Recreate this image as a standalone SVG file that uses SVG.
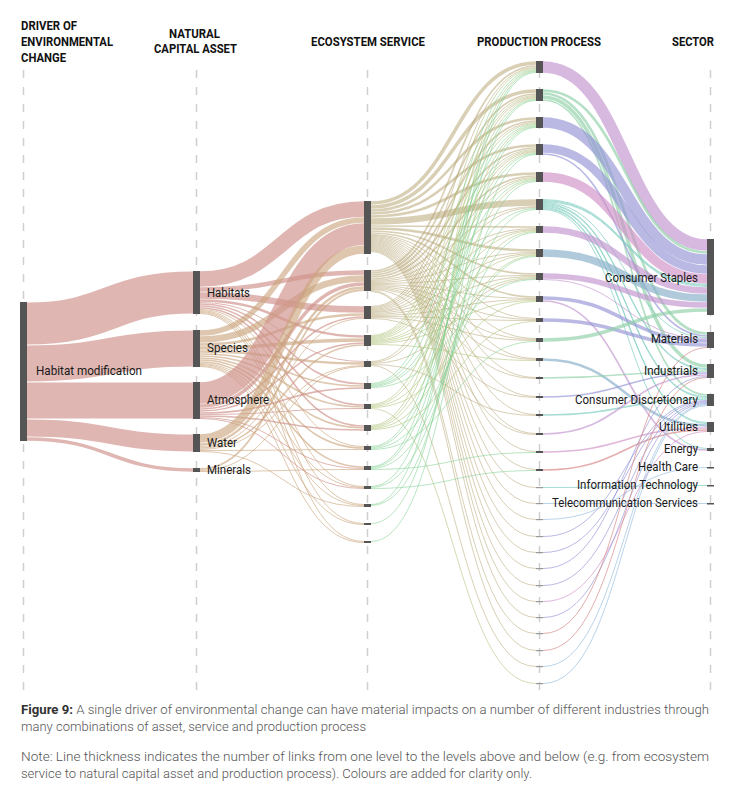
<svg xmlns="http://www.w3.org/2000/svg" width="735" height="800" viewBox="0 0 735 800">
<style>
text{font-family:Roboto,"Liberation Sans",sans-serif;fill:#1a1a1a}
.h{font-size:13px;font-weight:bold;fill:#111}
.lb{font-size:13px}
.cap{font-size:13px;font-weight:300;fill:#555}
.dash{stroke:#cfcfcf;stroke-width:1.5;stroke-dasharray:8 9;fill:none}
.n{fill:#555}
.ng{fill:#999}
#links path{fill:none}
.pkA{stroke:#d0938c;stroke-opacity:.68}
.tnA{stroke:#c9a47c;stroke-opacity:.62}
.tn{stroke:#b8a878;stroke-opacity:.55}
.ol{stroke:#b3c77f;stroke-opacity:.6}
.gn{stroke:#7fcf8f;stroke-opacity:.55}
.pu{stroke:#c193cf;stroke-opacity:.65}
.gr{stroke:#8fd0a8;stroke-opacity:.65}
.lv{stroke:#9393d6;stroke-opacity:.65}
.pk{stroke:#cf8fc6;stroke-opacity:.65}
.tl{stroke:#7fcdc0;stroke-opacity:.7}
.sb{stroke:#8fb3cc;stroke-opacity:.7}
.rd{stroke:#d98c8c;stroke-opacity:.7}
.lbl{stroke:#9cc0e0;stroke-opacity:.7}
</style>

<g id="guides">
<line class="dash" x1="23.5" y1="70" x2="23.5" y2="692"/>
<line class="dash" x1="196.5" y1="70" x2="196.5" y2="692"/>
<line class="dash" x1="367.5" y1="70" x2="367.5" y2="692"/>
<line class="dash" x1="539.5" y1="70" x2="539.5" y2="692"/>
<line class="dash" x1="710.5" y1="70" x2="710.5" y2="692"/>
</g>

<g id="headers">
<text class="h" x="21" y="30" textLength="56" lengthAdjust="spacingAndGlyphs">DRIVER OF</text>
<text class="h" x="21" y="46" textLength="92" lengthAdjust="spacingAndGlyphs">ENVIRONMENTAL</text>
<text class="h" x="21" y="62" textLength="45" lengthAdjust="spacingAndGlyphs">CHANGE</text>
<text class="h" x="169" y="38" textLength="51" lengthAdjust="spacingAndGlyphs">NATURAL</text>
<text class="h" x="154" y="53" textLength="83" lengthAdjust="spacingAndGlyphs">CAPITAL ASSET</text>
<text class="h" x="311" y="46" textLength="114" lengthAdjust="spacingAndGlyphs">ECOSYSTEM SERVICE</text>
<text class="h" x="477" y="46" textLength="124" lengthAdjust="spacingAndGlyphs">PRODUCTION PROCESS</text>
<text class="h" x="672" y="46" textLength="42" lengthAdjust="spacingAndGlyphs">SECTOR</text>
</g>

<g id="links">
<!-- driver -> natural -->
<path class="pkA" stroke-width="42" d="M27 323.5C110 323.5 110 292.5 193 292.5"/>
<path class="pkA" stroke-width="36" d="M27 363.5C110 363.5 110 348.5 193 348.5"/>
<path class="pkA" stroke-width="36" d="M27 400.5C110 400.5 110 400.5 193 400.5"/>
<path class="pkA" stroke-width="17" d="M27 428C110 428 110 443 193 443"/>
<path class="pkA" stroke-width="3.5" d="M27 439C110 439 110 470 193 470"/>
<!-- natural -> ecosystem : Habitats -->
<path class="pkA" stroke-width="15.5" d="M200 279C282 279 282 209 364 209"/>
<path class="pkA" stroke-width="4.5" d="M200 289.5C282 289.5 282 272.5 364 272.5"/>
<path class="pkA" stroke-width="6.5" d="M200 295.5C282 295.5 282 309.5 364 309.5"/>
<path class="pkA" stroke-width="2.5" d="M200 300.5C282 300.5 282 336.5 364 336.5"/>
<path class="pkA" d="M200 302.5C282 302.5 282 361.5 364 361.5"/>
<path class="pkA" stroke-width="1.6" d="M200 304C282 304 282 384 364 384"/>
<path class="pkA" stroke-width="1.6" d="M200 306C282 306 282 405 364 405"/>
<path class="pkA" stroke-width="1.6" d="M200 308C282 308 282 426 364 426"/>
<path class="tnA" d="M200 309.5C282 309.5 282 446.5 364 446.5"/>
<path class="tnA" d="M200 310.5C282 310.5 282 486.5 364 486.5"/>
<path class="tnA" d="M200 311.5C282 311.5 282 504.5 364 504.5"/>
<path class="tnA" d="M200 312.5C282 312.5 282 523.5 364 523.5"/>
<path class="tnA" d="M200 313.5C282 313.5 282 541.5 364 541.5"/>
<!-- Species -->
<path class="tnA" stroke-width="5.5" d="M200 333C282 333 282 220 364 220"/>
<path class="tnA" stroke-width="6.5" d="M200 339.5C282 339.5 282 278.5 364 278.5"/>
<path class="tnA" stroke-width="2.5" d="M200 344.5C282 344.5 282 314.5 364 314.5"/>
<path class="tnA" stroke-width="3.5" d="M200 348C282 348 282 340 364 340"/>
<path class="tnA" stroke-width="2.5" d="M200 351.5C282 351.5 282 363.5 364 363.5"/>
<path class="tnA" stroke-width="1.6" d="M200 354C282 354 282 386 364 386"/>
<path class="tnA" stroke-width="1.6" d="M200 356C282 356 282 407 364 407"/>
<path class="tnA" stroke-width="1.6" d="M200 358C282 358 282 428 364 428"/>
<path class="tnA" stroke-width="1.6" d="M200 360C282 360 282 448 364 448"/>
<path class="tnA" stroke-width="1.6" d="M200 362C282 362 282 467 364 467"/>
<path class="tnA" d="M200 363.5C282 363.5 282 487.5 364 487.5"/>
<path class="tnA" d="M200 364.5C282 364.5 282 505.5 364 505.5"/>
<path class="tnA" d="M200 365.5C282 365.5 282 524.5 364 524.5"/>
<path class="tnA" d="M200 366.5C282 366.5 282 542.5 364 542.5"/>
<!-- Atmosphere -->
<path class="pkA" stroke-width="21.5" d="M200 393C282 393 282 234 364 234"/>
<path class="pkA" stroke-width="3.5" d="M200 406C282 406 282 284 364 284"/>
<path class="pkA" stroke-width="1.6" d="M200 409C282 409 282 317 364 317"/>
<path class="pkA" stroke-width="1.6" d="M200 411C282 411 282 343 364 343"/>
<path class="pkA" stroke-width="1.6" d="M200 413C282 413 282 388 364 388"/>
<path class="pkA" d="M200 414.5C282 414.5 282 408.5 364 408.5"/>
<path class="pkA" stroke-width="1.6" d="M200 416C282 416 282 430 364 430"/>
<path class="pkA" d="M200 417.5C282 417.5 282 468.5 364 468.5"/>
<path class="pkA" d="M200 418.5C282 418.5 282 488.5 364 488.5"/>
<!-- Water -->
<path class="tnA" stroke-width="8.5" d="M200 438.5C282 438.5 282 249.5 364 249.5"/>
<path class="tnA" stroke-width="2.5" d="M200 444.5C282 444.5 282 287.5 364 287.5"/>
<path class="tnA" d="M200 446.5C282 446.5 282 318.5 364 318.5"/>
<path class="tnA" stroke-width="1.6" d="M200 448C282 448 282 345 364 345"/>
<path class="tnA" d="M200 449.5C282 449.5 282 365.5 364 365.5"/>
<path class="tnA" d="M200 450.5C282 450.5 282 449.5 364 449.5"/>
<path class="tnA" d="M200 451.5C282 451.5 282 506.5 364 506.5"/>
<!-- Minerals -->
<path class="tnA" stroke-width="1.8" d="M200 469C282 469 282 290 364 290"/>
<path class="tnA" d="M200 470.5C282 470.5 282 366.5 364 366.5"/>
<path class="tnA" d="M200 471.5C282 471.5 282 469.5 364 469.5"/>

<!-- ecosystem -> production : E1 -->
<path class="tn" stroke-width="3.5" d="M371 203C453.5 203 453.5 63 536 63"/>
<path class="tn" stroke-width="3.5" d="M371 207C453.5 207 453.5 91 536 91"/>
<path class="tn" stroke-width="2.6" d="M371 210.5C453.5 210.5 453.5 118.5 536 118.5"/>
<path class="tn" stroke-width="2.6" d="M371 213.5C453.5 213.5 453.5 145.5 536 145.5"/>
<path class="tn" stroke-width="2.6" d="M371 216.5C453.5 216.5 453.5 173.5 536 173.5"/>
<path class="tn" stroke-width="6.5" d="M371 221.5C453.5 221.5 453.5 202.5 536 202.5"/>
<path class="tn" stroke-width="1.7" d="M371 226C453.5 226 453.5 227 536 227"/>
<path class="tn" stroke-width="2.6" d="M371 228.5C453.5 228.5 453.5 250.5 536 250.5"/>
<path class="tn" stroke-width="1.7" d="M371 231C453.5 231 453.5 274 536 274"/>
<path class="tn" stroke-width="1.7" d="M371 233C453.5 233 453.5 297 536 297"/>
<path class="tn" d="M371 234.5C453.5 234.5 453.5 318.5 536 318.5"/>
<path class="tn" d="M371 235.5C453.5 235.5 453.5 338.5 536 338.5"/>
<path class="tn" d="M371 236.5C453.5 236.5 453.5 358.5 536 358.5"/>
<path class="tn" d="M371 237.5C453.5 237.5 453.5 377.5 536 377.5"/>
<path class="tn" d="M371 238.5C453.5 238.5 453.5 396.5 536 396.5"/>
<path class="tn" d="M371 239.5C453.5 239.5 453.5 414.5 536 414.5"/>
<path class="tn" d="M371 240.5C453.5 240.5 453.5 433.5 536 433.5"/>
<path class="tn" d="M371 241.5C453.5 241.5 453.5 451.5 536 451.5"/>
<path class="tn" d="M371 242.5C453.5 242.5 453.5 469.5 536 469.5"/>
<path class="tn" d="M371 243.5C453.5 243.5 453.5 487.5 536 487.5"/>
<path class="tn" d="M371 244.5C453.5 244.5 453.5 503.5 536 503.5"/>
<path class="tn" d="M371 245.5C453.5 245.5 453.5 519.5 536 519.5"/>
<path class="tn" d="M371 246.5C453.5 246.5 453.5 536.5 536 536.5"/>
<path class="tn" d="M371 247.5C453.5 247.5 453.5 552.5 536 552.5"/>
<path class="tn" d="M371 248.5C453.5 248.5 453.5 568.5 536 568.5"/>
<path class="tn" d="M371 249.5C453.5 249.5 453.5 585.5 536 585.5"/>
<path class="tn" d="M371 250.5C453.5 250.5 453.5 601.5 536 601.5"/>
<path class="tn" d="M371 251.5C453.5 251.5 453.5 617.5 536 617.5"/>
<!-- E2 -->
<path class="tn" stroke-width="1.7" d="M371 271C453.5 271 453.5 66 536 66"/>
<path class="tn" stroke-width="1.7" d="M371 273C453.5 273 453.5 94 536 94"/>
<path class="tn" stroke-width="1.7" d="M371 275C453.5 275 453.5 121 536 121"/>
<path class="tn" stroke-width="1.7" d="M371 277C453.5 277 453.5 148 536 148"/>
<path class="tn" stroke-width="1.7" d="M371 279C453.5 279 453.5 176 536 176"/>
<path class="tn" d="M371 280.5C453.5 280.5 453.5 206.5 536 206.5"/>
<path class="tn" d="M371 281.5C453.5 281.5 453.5 228.5 536 228.5"/>
<path class="tn" d="M371 282.5C453.5 282.5 453.5 252.5 536 252.5"/>
<path class="tn" d="M371 283.5C453.5 283.5 453.5 275.5 536 275.5"/>
<path class="tn" d="M371 284.5C453.5 284.5 453.5 298.5 536 298.5"/>
<path class="tn" d="M371 285.5C453.5 285.5 453.5 319.5 536 319.5"/>
<path class="tn" d="M371 286.5C453.5 286.5 453.5 339.5 536 339.5"/>
<path class="tn" d="M371 287.5C453.5 287.5 453.5 359.5 536 359.5"/>
<path class="tn" d="M371 288.5C453.5 288.5 453.5 378.5 536 378.5"/>
<path class="tn" d="M371 289.5C453.5 289.5 453.5 434.5 536 434.5"/>
<path class="tn" d="M371 290.5C453.5 290.5 453.5 633.5 536 633.5"/>
<path class="tn" d="M371 291.5C453.5 291.5 453.5 650.5 536 650.5"/>
<!-- E3 -->
<path class="tn" d="M371 306.5C453.5 306.5 453.5 67.5 536 67.5"/>
<path class="tn" d="M371 307.5C453.5 307.5 453.5 95.5 536 95.5"/>
<path class="tn" d="M371 308.5C453.5 308.5 453.5 122.5 536 122.5"/>
<path class="tn" d="M371 309.5C453.5 309.5 453.5 149.5 536 149.5"/>
<path class="tn" d="M371 310.5C453.5 310.5 453.5 177.5 536 177.5"/>
<path class="tn" d="M371 311.5C453.5 311.5 453.5 207.5 536 207.5"/>
<path class="tn" d="M371 312.5C453.5 312.5 453.5 229.5 536 229.5"/>
<path class="tn" d="M371 313.5C453.5 313.5 453.5 253.5 536 253.5"/>
<path class="tn" d="M371 314.5C453.5 314.5 453.5 276.5 536 276.5"/>
<path class="tn" d="M371 315.5C453.5 315.5 453.5 299.5 536 299.5"/>
<path class="tn" d="M371 316.5C453.5 316.5 453.5 320.5 536 320.5"/>
<path class="tn" d="M371 317.5C453.5 317.5 453.5 340.5 536 340.5"/>
<path class="tn" d="M371 318.5C453.5 318.5 453.5 397.5 536 397.5"/>
<!-- E4 -->
<path class="ol" d="M371 335.5C453.5 335.5 453.5 68.5 536 68.5"/>
<path class="ol" d="M371 336.5C453.5 336.5 453.5 96.5 536 96.5"/>
<path class="ol" d="M371 337.5C453.5 337.5 453.5 123.5 536 123.5"/>
<path class="ol" d="M371 338.5C453.5 338.5 453.5 150.5 536 150.5"/>
<path class="ol" d="M371 339.5C453.5 339.5 453.5 178.5 536 178.5"/>
<path class="ol" d="M371 340.5C453.5 340.5 453.5 230.5 536 230.5"/>
<path class="ol" d="M371 341.5C453.5 341.5 453.5 254.5 536 254.5"/>
<path class="ol" d="M371 342.5C453.5 342.5 453.5 277.5 536 277.5"/>
<path class="ol" d="M371 343.5C453.5 343.5 453.5 300.5 536 300.5"/>
<path class="ol" d="M371 344.5C453.5 344.5 453.5 360.5 536 360.5"/>
<!-- E5 -->
<path class="tn" d="M371 361.5C453.5 361.5 453.5 97.5 536 97.5"/>
<path class="tn" d="M371 362.5C453.5 362.5 453.5 151.5 536 151.5"/>
<path class="tn" d="M371 363.5C453.5 363.5 453.5 278.5 536 278.5"/>
<path class="tn" d="M371 364.5C453.5 364.5 453.5 415.5 536 415.5"/>
<path class="tn" d="M371 365.5C453.5 365.5 453.5 666.5 536 666.5"/>
<!-- E6 -->
<path class="gn" d="M371 383.5C453.5 383.5 453.5 69.5 536 69.5"/>
<path class="gn" d="M371 384.5C453.5 384.5 453.5 124.5 536 124.5"/>
<path class="gn" d="M371 385.5C453.5 385.5 453.5 179.5 536 179.5"/>
<path class="gn" d="M371 386.5C453.5 386.5 453.5 208.5 536 208.5"/>
<path class="gn" d="M371 387.5C453.5 387.5 453.5 279.5 536 279.5"/>
<!-- E7 -->
<path class="ol" d="M371 404.5C453.5 404.5 453.5 98.5 536 98.5"/>
<path class="ol" d="M371 405.5C453.5 405.5 453.5 152.5 536 152.5"/>
<path class="ol" d="M371 406.5C453.5 406.5 453.5 231.5 536 231.5"/>
<path class="ol" d="M371 407.5C453.5 407.5 453.5 301.5 536 301.5"/>
<path class="ol" d="M371 408.5C453.5 408.5 453.5 683.5 536 683.5"/>
<!-- E8 -->
<path class="ol" d="M371 425.5C453.5 425.5 453.5 70.5 536 70.5"/>
<path class="ol" d="M371 426.5C453.5 426.5 453.5 125.5 536 125.5"/>
<path class="ol" d="M371 427.5C453.5 427.5 453.5 180.5 536 180.5"/>
<path class="ol" d="M371 428.5C453.5 428.5 453.5 255.5 536 255.5"/>
<path class="ol" d="M371 429.5C453.5 429.5 453.5 321.5 536 321.5"/>
<!-- E9 -->
<path class="gn" d="M371 446.5C453.5 446.5 453.5 99.5 536 99.5"/>
<path class="gn" d="M371 447.5C453.5 447.5 453.5 153.5 536 153.5"/>
<path class="gn" d="M371 448.5C453.5 448.5 453.5 256.5 536 256.5"/>
<path class="gn" d="M371 449.5C453.5 449.5 453.5 341.5 536 341.5"/>
<!-- E10 -->
<path class="gn" d="M371 466.5C453.5 466.5 453.5 71.5 536 71.5"/>
<path class="gn" d="M371 467.5C453.5 467.5 453.5 126.5 536 126.5"/>
<path class="gn" d="M371 468.5C453.5 468.5 453.5 232.5 536 232.5"/>
<path class="gn" d="M371 469.5C453.5 469.5 453.5 452.5 536 452.5"/>
<!-- E11 -->
<path class="gn" d="M371 486.5C453.5 486.5 453.5 100.5 536 100.5"/>
<path class="gn" d="M371 487.5C453.5 487.5 453.5 209.5 536 209.5"/>
<path class="gn" d="M371 488.5C453.5 488.5 453.5 470.5 536 470.5"/>
<!-- E12-E14 -->
<path class="gn" d="M371 504.5C453.5 504.5 453.5 72.5 536 72.5"/>
<path class="gn" d="M371 505.5C453.5 505.5 453.5 181.5 536 181.5"/>
<path class="gn" d="M371 523.5C453.5 523.5 453.5 127.5 536 127.5"/>
<path class="gn" d="M371 541.5C453.5 541.5 453.5 154.5 536 154.5"/>

<!-- production -> sector -->
<path class="pu" stroke-width="11.5" d="M543 67C625 67 625 245 707 245"/>
<path class="gr" stroke-width="2.6" d="M543 90.5C625 90.5 625 252.5 707 252.5"/>
<path class="gr" stroke-width="2.6" d="M543 93.5C625 93.5 625 333.5 707 333.5"/>
<path class="gr" stroke-width="3.5" d="M543 97C625 97 625 366 707 366"/>
<path class="gr" stroke-width="1.7" d="M543 100C625 100 625 395 707 395"/>
<path class="lv" stroke-width="10.5" d="M543 122.5C625 122.5 625 259.5 707 259.5"/>
<path class="lv" stroke-width="8.5" d="M543 148.5C625 148.5 625 269.5 707 269.5"/>
<path class="lv" stroke-width="1.7" d="M543 154C625 154 625 336 707 336"/>
<path class="pk" stroke-width="9.5" d="M543 177C625 177 625 279 707 279"/>
<path class="tl" d="M543 199.5C625 199.5 625 284.5 707 284.5"/>
<path class="tl" d="M543 200.5C625 200.5 625 285.5 707 285.5"/>
<path class="tl" d="M543 201.5C625 201.5 625 286.5 707 286.5"/>
<path class="tl" d="M543 202.5C625 202.5 625 337.5 707 337.5"/>
<path class="tl" d="M543 203.5C625 203.5 625 368.5 707 368.5"/>
<path class="tl" d="M543 204.5C625 204.5 625 369.5 707 369.5"/>
<path class="tl" d="M543 205.5C625 205.5 625 396.5 707 396.5"/>
<path class="tl" d="M543 206.5C625 206.5 625 397.5 707 397.5"/>
<path class="tl" d="M543 207.5C625 207.5 625 422.5 707 422.5"/>
<path class="tl" d="M543 208.5C625 208.5 625 423.5 707 423.5"/>
<path class="tl" d="M543 209.5C625 209.5 625 448.5 707 448.5"/>
<path class="pu" stroke-width="6.5" d="M543 229.5C625 229.5 625 290.5 707 290.5"/>
<path class="sb" stroke-width="7.5" d="M543 253C625 253 625 298 707 298"/>
<path class="pu" stroke-width="5.5" d="M543 276C625 276 625 305 707 305"/>
<path class="pu" d="M543 279.5C625 279.5 625 338.5 707 338.5"/>
<path class="lv" stroke-width="3.5" d="M543 298C625 298 625 341 707 341"/>
<path class="pu" stroke-width="1.7" d="M543 301C625 301 625 450 707 450"/>
<path class="lv" stroke-width="3.5" d="M543 320C625 320 625 345 707 345"/>
<path class="gr" stroke-width="3.5" d="M543 340C625 340 625 310 707 310"/>
<path class="sb" stroke-width="2.6" d="M543 359.5C625 359.5 625 425.5 707 425.5"/>
<path class="gr" stroke-width="1.7" d="M543 378C625 378 625 371 707 371"/>
<path class="lv" stroke-width="1.7" d="M543 397C625 397 625 373 707 373"/>
<path class="tl" stroke-width="1.7" d="M543 415C625 415 625 399 707 399"/>
<path class="pu" stroke-width="1.7" d="M543 434C625 434 625 375 707 375"/>
<path class="pk" stroke-width="1.7" d="M543 452C625 452 625 428 707 428"/>
<path class="rd" stroke-width="1.7" d="M543 470C625 470 625 430 707 430"/>
<path class="tl" d="M543 487.5C625 487.5 625 485.5 707 485.5"/>
<path class="lbl" d="M543 503.5C625 503.5 625 503.5 707 503.5"/>
<path class="lbl" d="M543 519.5C625 519.5 625 467.5 707 467.5"/>
<path class="lv" d="M543 536.5C625 536.5 625 400.5 707 400.5"/>
<path class="lv" d="M543 552.5C625 552.5 625 401.5 707 401.5"/>
<path class="lv" d="M543 568.5C625 568.5 625 376.5 707 376.5"/>
<path class="lv" d="M543 585.5C625 585.5 625 402.5 707 402.5"/>
<path class="pk" d="M543 601.5C625 601.5 625 431.5 707 431.5"/>
<path class="lv" d="M543 617.5C625 617.5 625 403.5 707 403.5"/>
<path class="rd" d="M543 633.5C625 633.5 625 347.5 707 347.5"/>
<path class="rd" d="M543 650.5C625 650.5 625 377.5 707 377.5"/>
<path class="lbl" d="M543 666.5C625 666.5 625 404.5 707 404.5"/>
<path class="lbl" d="M543 683.5C625 683.5 625 405.5 707 405.5"/>
</g>

<!-- driver -->
<g id="driver-habitat-modification"><rect class="n" x="20" y="302" width="7" height="139"/><text class="lb" x="36" y="375" textLength="106" lengthAdjust="spacingAndGlyphs">Habitat modification</text></g>
<!-- natural capital -->
<g id="asset-habitats"><rect class="n" x="193" y="271" width="7" height="43"/><text class="lb" x="207" y="297" textLength="43" lengthAdjust="spacingAndGlyphs">Habitats</text></g>
<g id="asset-species"><rect class="n" x="193" y="330" width="7" height="37"/><text class="lb" x="207" y="352" textLength="41" lengthAdjust="spacingAndGlyphs">Species</text></g>
<g id="asset-atmosphere"><rect class="n" x="193" y="382" width="7" height="37"/><text class="lb" x="207" y="404" textLength="62" lengthAdjust="spacingAndGlyphs">Atmosphere</text></g>
<g id="asset-water"><rect class="n" x="193" y="434" width="7" height="18"/><text class="lb" x="207" y="447" textLength="30" lengthAdjust="spacingAndGlyphs">Water</text></g>
<g id="asset-minerals"><rect class="n" x="193" y="468" width="7" height="4"/><text class="lb" x="207" y="474" textLength="44" lengthAdjust="spacingAndGlyphs">Minerals</text></g>
<!-- ecosystem services -->
<g id="es1"><rect class="n" x="364" y="201" width="7" height="53"/></g>
<g id="es2"><rect class="n" x="364" y="270" width="7" height="21"/></g>
<g id="es3"><rect class="n" x="364" y="306" width="7" height="13"/></g>
<g id="es4"><rect class="n" x="364" y="335" width="7" height="11"/></g>
<g id="es5"><rect class="n" x="364" y="361" width="7" height="6"/></g>
<g id="es6"><rect class="n" x="364" y="383" width="7" height="6"/></g>
<g id="es7"><rect class="n" x="364" y="404" width="7" height="5"/></g>
<g id="es8"><rect class="n" x="364" y="425" width="7" height="6"/></g>
<g id="es9"><rect class="n" x="364" y="446" width="7" height="4"/></g>
<g id="es10"><rect class="n" x="364" y="466" width="7" height="4"/></g>
<g id="es11"><rect class="n" x="364" y="486" width="7" height="3"/></g>
<g id="es12"><rect class="n" x="364" y="504" width="7" height="3"/></g>
<g id="es13"><rect class="n" x="364" y="523" width="7" height="2"/></g>
<g id="es14"><rect class="n" x="364" y="541" width="7" height="2"/></g>
<!-- production processes -->
<g id="pp1"><rect class="n" x="536" y="61" width="7" height="12"/></g>
<g id="pp2"><rect class="n" x="536" y="89" width="7" height="12"/></g>
<g id="pp3"><rect class="n" x="536" y="117" width="7" height="11"/></g>
<g id="pp4"><rect class="n" x="536" y="144" width="7" height="11"/></g>
<g id="pp5"><rect class="n" x="536" y="172" width="7" height="10"/></g>
<g id="pp6"><rect class="n" x="536" y="199" width="7" height="11"/></g>
<g id="pp7"><rect class="n" x="536" y="226" width="7" height="7"/></g>
<g id="pp8"><rect class="n" x="536" y="249" width="7" height="8"/></g>
<g id="pp9"><rect class="n" x="536" y="273" width="7" height="7"/></g>
<g id="pp10"><rect class="n" x="536" y="296" width="7" height="6"/></g>
<g id="pp11"><rect class="n" x="536" y="318" width="7" height="4"/></g>
<g id="pp12"><rect class="n" x="536" y="338" width="7" height="4"/></g>
<g id="pp13"><rect class="n" x="536" y="358" width="7" height="3"/></g>
<g id="pp14"><rect class="n" x="536" y="377" width="7" height="2"/></g>
<g id="pp15"><rect class="n" x="536" y="396" width="7" height="2"/></g>
<g id="pp16"><rect class="n" x="536" y="414" width="7" height="2"/></g>
<g id="pp17"><rect class="n" x="536" y="433" width="7" height="2"/></g>
<g id="pp18"><rect class="n" x="536" y="451" width="7" height="2"/></g>
<g id="pp19"><rect class="n" x="536" y="469" width="7" height="2"/></g>
<g id="pp20"><rect class="ng" x="536" y="487" width="7" height="1.2"/></g>
<g id="pp21"><rect class="ng" x="536" y="503" width="7" height="1.2"/></g>
<g id="pp22"><rect class="ng" x="536" y="519" width="7" height="1.2"/></g>
<g id="pp23"><rect class="ng" x="536" y="536" width="7" height="1.2"/></g>
<g id="pp24"><rect class="ng" x="536" y="552" width="7" height="1.2"/></g>
<g id="pp25"><rect class="ng" x="536" y="568" width="7" height="1.2"/></g>
<g id="pp26"><rect class="ng" x="536" y="585" width="7" height="1.2"/></g>
<g id="pp27"><rect class="ng" x="536" y="601" width="7" height="1.2"/></g>
<g id="pp28"><rect class="ng" x="536" y="617" width="7" height="1.2"/></g>
<g id="pp29"><rect class="ng" x="536" y="633" width="7" height="1.2"/></g>
<g id="pp30"><rect class="ng" x="536" y="650" width="7" height="1.2"/></g>
<g id="pp31"><rect class="ng" x="536" y="666" width="7" height="1.2"/></g>
<g id="pp32"><rect class="ng" x="536" y="683" width="7" height="1.2"/></g>
<!-- sectors -->
<g id="sector-consumer-staples"><rect class="n" x="707" y="239" width="7" height="76"/><text class="lb" x="698" y="282" text-anchor="end" textLength="93" lengthAdjust="spacingAndGlyphs">Consumer Staples</text></g>
<g id="sector-materials"><rect class="n" x="707" y="332" width="7" height="16"/><text class="lb" x="698" y="343" text-anchor="end" textLength="47" lengthAdjust="spacingAndGlyphs">Materials</text></g>
<g id="sector-industrials"><rect class="n" x="707" y="364" width="7" height="14"/><text class="lb" x="698" y="375" text-anchor="end" textLength="54" lengthAdjust="spacingAndGlyphs">Industrials</text></g>
<g id="sector-consumer-discretionary"><rect class="n" x="707" y="394" width="7" height="12"/><text class="lb" x="698" y="404" text-anchor="end" textLength="123" lengthAdjust="spacingAndGlyphs">Consumer Discretionary</text></g>
<g id="sector-utilities"><rect class="n" x="707" y="422" width="7" height="10"/><text class="lb" x="698" y="431" text-anchor="end" textLength="39" lengthAdjust="spacingAndGlyphs">Utilities</text></g>
<g id="sector-energy"><rect class="n" x="707" y="448" width="7" height="3"/><text class="lb" x="698" y="453" text-anchor="end" textLength="34" lengthAdjust="spacingAndGlyphs">Energy</text></g>
<g id="sector-health-care"><rect class="n" x="707" y="467" width="7" height="1.5"/><text class="lb" x="698" y="471" text-anchor="end" textLength="60" lengthAdjust="spacingAndGlyphs">Health Care</text></g>
<g id="sector-information-technology"><rect class="n" x="707" y="485" width="7" height="1.5"/><text class="lb" x="698" y="489" text-anchor="end" textLength="121" lengthAdjust="spacingAndGlyphs">Information Technology</text></g>
<g id="sector-telecommunication-services"><rect class="n" x="707" y="503" width="7" height="1.5"/><text class="lb" x="698" y="507" text-anchor="end" textLength="146" lengthAdjust="spacingAndGlyphs">Telecommunication Services</text></g>

<g id="caption">
<text class="cap" x="21" y="714" textLength="688" lengthAdjust="spacingAndGlyphs"><tspan font-weight="bold" fill="#333">Figure 9:</tspan> A single driver of environmental change can have material impacts on a number of different industries through</text>
<text class="cap" x="21" y="731" textLength="345" lengthAdjust="spacingAndGlyphs">many combinations of asset, service and production process</text>
<text class="cap" x="21" y="761" textLength="688" lengthAdjust="spacingAndGlyphs">Note: Line thickness indicates the number of links from one level to the levels above and below (e.g. from ecosystem</text>
<text class="cap" x="21" y="778" textLength="511" lengthAdjust="spacingAndGlyphs">service to natural capital asset and production process). Colours are added for clarity only.</text>
</g>
</svg>
